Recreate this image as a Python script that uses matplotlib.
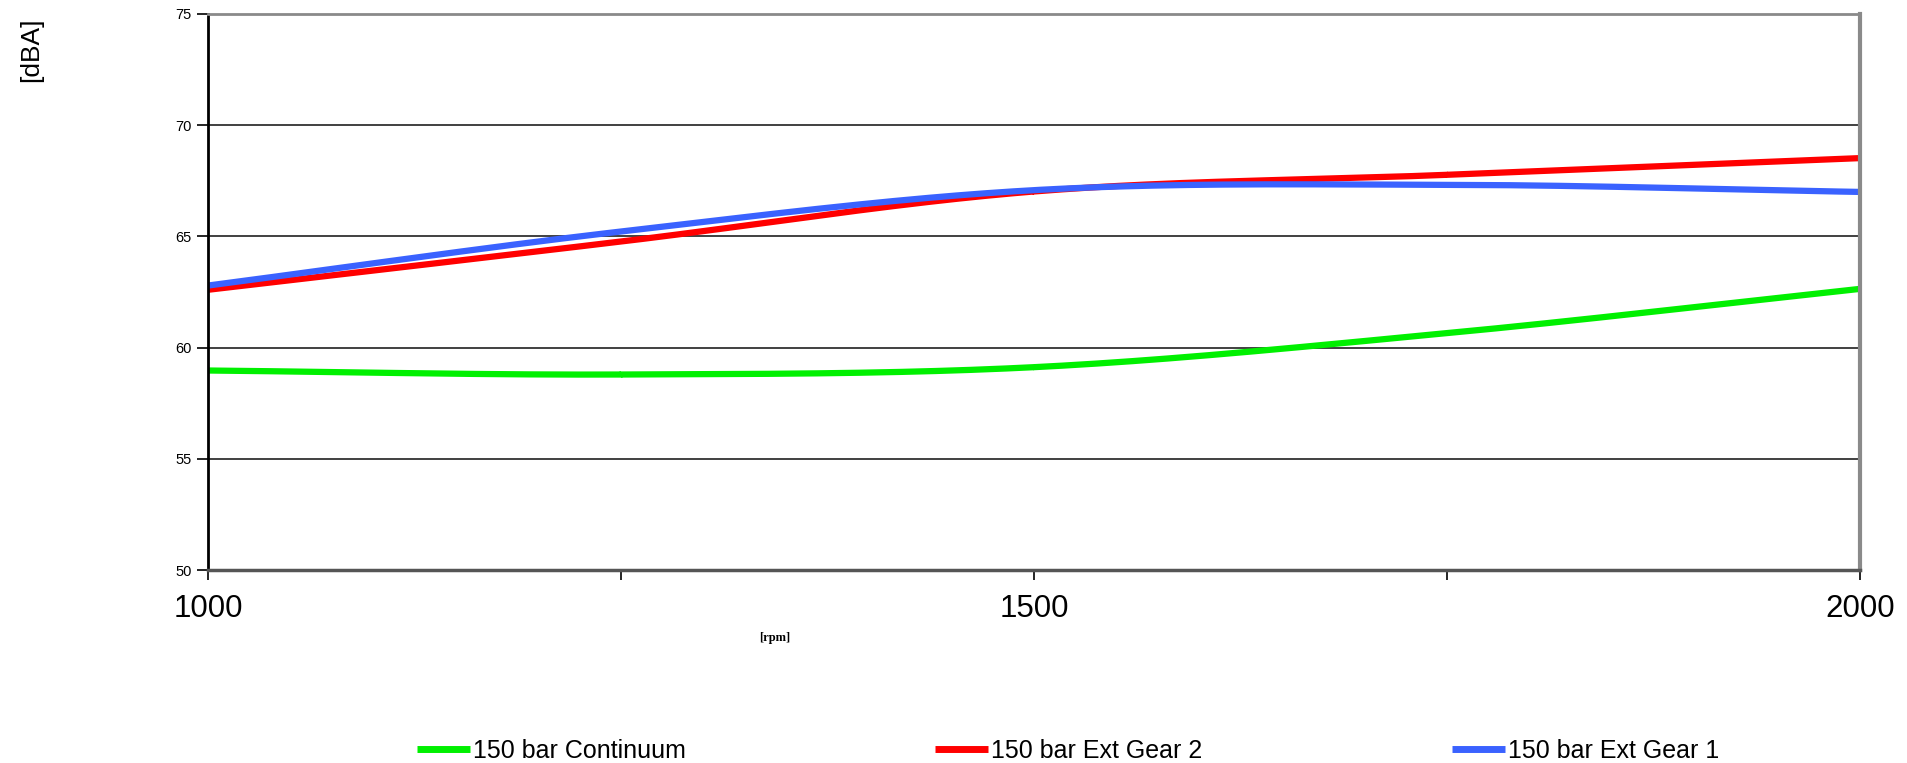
import numpy as np
import matplotlib
matplotlib.use("Agg")
import matplotlib.pyplot as plt

# ---- data ----
rpm = [1000, 1250, 1500, 1750, 2000]
continuum = [58.97, 58.79, 59.12, 60.65, 62.64]
ext_gear2 = [62.60, 64.77, 67.02, 67.77, 68.52]
ext_gear1 = [62.79, 65.22, 67.08, 67.32, 67.00]
series_names = ["150 bar Continuum", "150 bar Ext Gear 2", "150 bar Ext Gear 1"]
xtick_labels = ["1000", "1500", "2000"]
yticks = [50, 55, 60, 65, 70, 75]


def smooth(xs, ys, n=60):
    """Catmull-Rom smoothing through the data points (like Excel smoothed lines)."""
    xs = np.asarray(xs, float)
    ys = np.asarray(ys, float)
    px = np.concatenate([[2 * xs[0] - xs[1]], xs, [2 * xs[-1] - xs[-2]]])
    py = np.concatenate([[2 * ys[0] - ys[1]], ys, [2 * ys[-1] - ys[-2]]])
    ox, oy = [], []
    t = np.linspace(0, 1, n)
    for i in range(1, len(px) - 2):
        for arr, out in ((px, ox), (py, oy)):
            p0, p1, p2, p3 = arr[i - 1], arr[i], arr[i + 1], arr[i + 2]
            out.extend(0.5 * ((2 * p1) + (-p0 + p2) * t
                              + (2 * p0 - 5 * p1 + 4 * p2 - p3) * t ** 2
                              + (-p0 + 3 * p1 - 3 * p2 + p3) * t ** 3))
    return np.array(ox), np.array(oy)


plt.rcParams['font.family'] = ['Liberation Sans', 'DejaVu Sans']

W, H = 1908, 763
fig = plt.figure(figsize=(W / 100, H / 100), dpi=100)
ax = fig.add_axes([208 / W, 1 - 570 / H, (1860 - 208) / W, (570 - 14) / H])

colors = ["#00F000", "#FF0000", "#3A62FF"]
for ys, c, name in zip([continuum, ext_gear2, ext_gear1], colors, series_names):
    sx, sy = smooth(rpm, ys)
    ax.plot(sx, sy, color=c, lw=4.5, label=name, solid_capstyle='butt')

ax.set_xlim(1000, 2000)
ax.set_ylim(50, 75)
ax.set_yticks(yticks)
ax.set_yticklabels([str(v) for v in yticks], fontsize=10.5)
ax.set_xticks([1000, 1500, 2000])
ax.set_xticklabels(xtick_labels, fontsize=22.5)
ax.set_xticks([1250, 1750], minor=True)
ax.tick_params(axis='y', direction='out', length=8, width=1.2, pad=4, colors='black')
ax.tick_params(axis='x', which='both', direction='out', length=7, width=1.2, pad=10)

for v in [55, 60, 65, 70]:
    ax.axhline(v, color='#404040', lw=1.4, zorder=0)

ax.spines['left'].set_color('black')
ax.spines['left'].set_linewidth(2)
ax.spines['bottom'].set_color('#555555')
ax.spines['bottom'].set_linewidth(2.5)
ax.spines['top'].set_color('#8a8a8a')
ax.spines['top'].set_linewidth(2)
ax.spines['right'].set_color('#8a8a8a')
ax.spines['right'].set_linewidth(3)

fig.text(31 / W, 1 - 50 / H, "[dBA]", rotation=90, fontsize=19,
         ha='center', va='center')
fig.text(775 / W, 1 - 638 / H, "[rpm]", fontsize=9, fontweight='bold',
         family=['Liberation Serif', 'DejaVu Serif'], ha='center', va='center')

handles, labels = ax.get_legend_handles_labels()
leg = fig.legend(handles, labels, loc='center', bbox_to_anchor=(1068 / W, 1 - 751 / H),
                 ncol=3, frameon=False, fontsize=18, handlelength=2.1,
                 handletextpad=0.12, columnspacing=10.0, borderpad=0)
for h in leg.get_lines():
    h.set_linewidth(5)

fig.savefig("out.png", dpi=100)
